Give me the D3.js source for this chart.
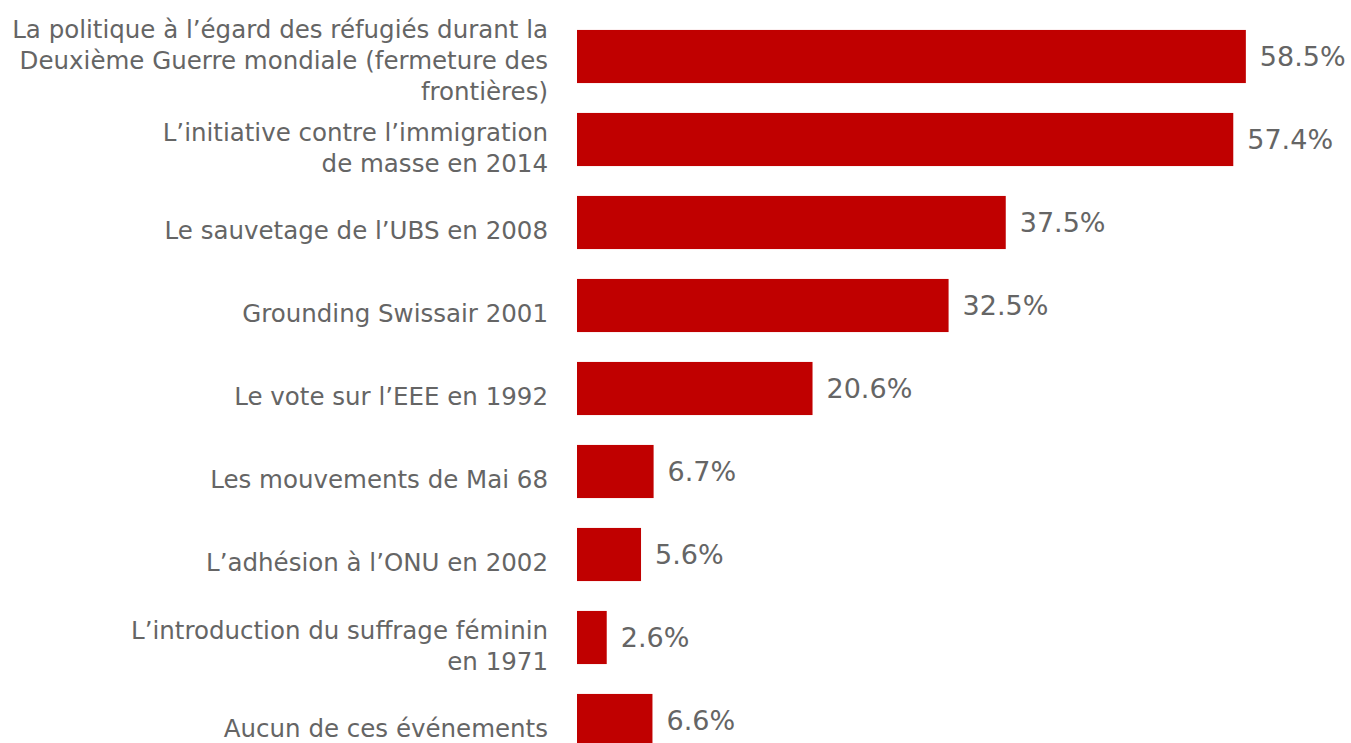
<!DOCTYPE html>
<html>
<head>
<meta charset="utf-8">
<script src="https://cdn.jsdelivr.net/npm/d3@7"></script>
<style>
  html, body { margin: 0; padding: 0; background: #fff; }
  svg { display: block; }
  text { font-family: "DejaVu Sans", sans-serif; fill: #656565; }
</style>
</head>
<body>
<svg id="chart"></svg>
<script>
const categories = [
  "La politique à l’égard des réfugiés durant la\nDeuxième Guerre mondiale (fermeture des\nfrontières)",
  "L’initiative contre l’immigration\nde masse en 2014",
  "Le sauvetage de l’UBS en 2008",
  "Grounding Swissair 2001",
  "Le vote sur l’EEE en 1992",
  "Les mouvements de Mai 68",
  "L’adhésion à l’ONU en 2002",
  "L’introduction du suffrage féminin\nen 1971",
  "Aucun de ces événements"
];
const values = [58.5, 57.4, 37.5, 32.5, 20.6, 6.7, 5.6, 2.6, 6.6];

const width = 1351;
const height = 743;
const catFont = 24.5;
const valFont = 27;
const lineHeight = 31;

const svg = d3.select("#chart")
  .attr("width", width)
  .attr("height", height);

const x = d3.scaleLinear()
  .domain([0, 60])
  .range([577, 1263]);

const y = d3.scaleBand()
  .domain(categories)
  .range([15, 762])
  .paddingInner(0.36)
  .paddingOuter(0.18);

// bars
svg.selectAll("rect.bar")
  .data(categories)
  .enter()
  .append("rect")
  .attr("class", "bar")
  .attr("x", x(0))
  .attr("y", d => y(d))
  .attr("width", (d, i) => x(values[i]) - x(0))
  .attr("height", y.bandwidth())
  .attr("fill", "#C00000");

// value labels
svg.selectAll("text.value")
  .data(categories)
  .enter()
  .append("text")
  .attr("class", "value")
  .attr("x", (d, i) => x(values[i]) + 14)
  .attr("y", d => y(d) + y.bandwidth() / 2)
  .attr("dy", "0.35em")
  .style("font-size", valFont + "px")
  .text((d, i) => values[i].toFixed(1) + "%");

// category labels, right aligned, may wrap over several lines
svg.selectAll("text.cat")
  .data(categories)
  .enter()
  .append("text")
  .attr("class", "cat")
  .attr("text-anchor", "end")
  .style("font-size", catFont + "px")
  .each(function(d) {
    const lines = d.split("\n");
    const shift = lines.length > 2 ? 4 : 8;
    const mid = y(d) + y.bandwidth() / 2 + shift;
    const first = mid - (lines.length - 1) * lineHeight / 2;
    d3.select(this).selectAll("tspan")
      .data(lines)
      .enter()
      .append("tspan")
      .attr("x", 548)
      .attr("y", (l, j) => first + j * lineHeight)
      .attr("dy", "0.35em")
      .text(l => l);
  });
</script>
</body>
</html>
